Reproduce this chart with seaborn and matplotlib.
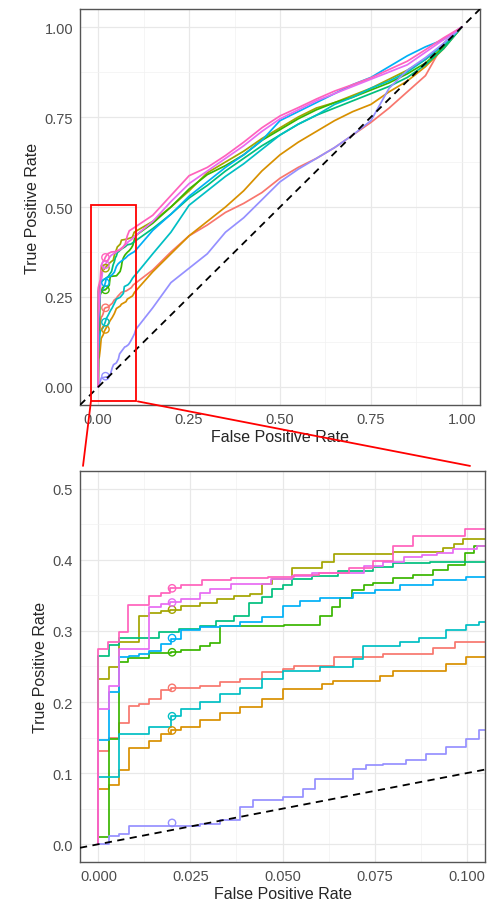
import numpy as np
import pandas as pd
import matplotlib
matplotlib.use("Agg")
import matplotlib.pyplot as plt
from matplotlib.patches import Rectangle, ConnectionPatch
from matplotlib.ticker import MultipleLocator, FormatStrFormatter
import seaborn as sns

# curve names and ggplot-like hue colours
names = ["red", "orange", "olive", "green", "seagreen", "cyan", "blue", "purple", "magenta", "pink"]
colors = ["#F8766D", "#D89000", "#A3A500", "#39B600", "#00BF7D",
          "#00BFC4", "#00B0F6", "#9590FF", "#E76BF3", "#FF62BC"]

# low-FPR part of each curve
red_fpr = [0, 0, 0.003, 0.0056, 0.0083, 0.011, 0.0137, 0.0169, 0.0196, 0.0277, 0.0331, 0.0385,
           0.0444, 0.050, 0.053, 0.064, 0.0774, 0.091, 0.0968]
red_tpr = [0, 0.131, 0.15, 0.17, 0.194, 0.197, 0.204, 0.217, 0.22, 0.222, 0.228, 0.232,
           0.242, 0.246, 0.251, 0.263, 0.267, 0.276, 0.284]

orange_fpr = [0, 0, 0.003, 0.0056, 0.0083, 0.0137, 0.0169, 0.0196, 0.0223, 0.0277, 0.0331, 0.0385,
              0.0444, 0.050, 0.0606, 0.0638, 0.0764, 0.080, 0.0944, 0.0998]
orange_tpr = [0, 0.077, 0.083, 0.105, 0.135, 0.145, 0.155, 0.16, 0.165, 0.175, 0.185, 0.193,
              0.204, 0.218, 0.225, 0.23, 0.237, 0.244, 0.253, 0.263]

olive_fpr = [0, 0, 0.003, 0.0055, 0.011, 0.0137, 0.017, 0.0195, 0.0225, 0.0277, 0.0322, 0.0368,
             0.0413, 0.0444, 0.0471, 0.0526, 0.0607, 0.064, 0.080, 0.0937, 0.0965, 0.099]
olive_tpr = [0, 0.232, 0.249, 0.285, 0.321, 0.325, 0.328, 0.330, 0.335, 0.340, 0.345, 0.349,
             0.352, 0.366, 0.373, 0.389, 0.397, 0.408, 0.411, 0.416, 0.423, 0.430]

green_fpr = [0, 0, 0.003, 0.0055, 0.008, 0.0137, 0.0196, 0.0225, 0.0277, 0.0304, 0.0331, 0.0503,
             0.0603, 0.0635, 0.0657, 0.069, 0.072, 0.0746, 0.080, 0.0855, 0.091, 0.095, 0.0996, 0.102]
green_tpr = [0, 0.01, 0.148, 0.256, 0.262, 0.269, 0.27, 0.273, 0.279, 0.283, 0.307, 0.309,
             0.321, 0.333, 0.347, 0.358, 0.364, 0.368, 0.374, 0.379, 0.386, 0.393, 0.41, 0.42]

seagreen_fpr = [0, 0, 0.003, 0.0055, 0.0164, 0.022, 0.0277, 0.032, 0.0368, 0.041, 0.0444, 0.0471,
                0.050, 0.0526, 0.058, 0.065, 0.0746, 0.080, 0.090]
seagreen_tpr = [0, 0.265, 0.28, 0.29, 0.299, 0.303, 0.307, 0.314, 0.321, 0.339, 0.348, 0.359,
                0.364, 0.373, 0.378, 0.384, 0.39, 0.395, 0.397]

blue_fpr = [0, 0, 0.0029, 0.0056, 0.0083, 0.011, 0.0137, 0.0169, 0.0196, 0.0223, 0.0277, 0.0331,
            0.0385, 0.0444, 0.050, 0.0547, 0.0601, 0.0692, 0.075, 0.0818, 0.0908, 0.0998]
blue_tpr = [0, 0.146, 0.214, 0.263, 0.265, 0.267, 0.272, 0.281, 0.289, 0.302, 0.305, 0.307,
            0.312, 0.319, 0.335, 0.342, 0.347, 0.354, 0.358, 0.365, 0.371, 0.376]

cyan_fpr = [0, 0, 0.0056, 0.0137, 0.0196, 0.0223, 0.0277, 0.0331, 0.0385, 0.0444, 0.050, 0.0601,
            0.0692, 0.0719, 0.0818, 0.0872, 0.0944, 0.0998, 0.1034]
cyan_tpr = [0, 0.095, 0.155, 0.165, 0.181, 0.19, 0.20, 0.211, 0.22, 0.232, 0.244, 0.249,
            0.26, 0.279, 0.284, 0.29, 0.302, 0.309, 0.3125]

purple_fpr = [0, 0.003, 0.0056, 0.0083, 0.0277, 0.0331, 0.0385, 0.0421, 0.050, 0.0556, 0.0588,
              0.0692, 0.0728, 0.0773, 0.0836, 0.089, 0.0944, 0.0998, 0.1034]
purple_tpr = [0, 0.011, 0.015, 0.025, 0.029, 0.034, 0.053, 0.062, 0.067, 0.078, 0.092,
              0.106, 0.111, 0.113, 0.118, 0.127, 0.137, 0.148, 0.16]

magenta_fpr = [0, 0, 0.003, 0.0055, 0.0137, 0.017, 0.0195, 0.0225, 0.0277, 0.0304, 0.0359, 0.0468,
               0.0526, 0.058, 0.072, 0.0774, 0.083, 0.088, 0.0919, 0.0964, 0.1027]
magenta_tpr = [0, 0.19, 0.222, 0.274, 0.333, 0.338, 0.341, 0.345, 0.354, 0.359, 0.366, 0.373,
               0.377, 0.381, 0.392, 0.397, 0.404, 0.407, 0.41, 0.415, 0.42]

pink_fpr = [0, 0, 0.0025, 0.0055, 0.008, 0.0137, 0.017, 0.0195, 0.0225, 0.028, 0.036, 0.046,
            0.053, 0.060, 0.068, 0.0745, 0.080, 0.0855, 0.0995]
pink_tpr = [0, 0.275, 0.285, 0.298, 0.337, 0.349, 0.353, 0.360, 0.365, 0.371, 0.375, 0.376,
            0.379, 0.381, 0.388, 0.398, 0.420, 0.434, 0.443]

# rest of each curve
far_fpr = [0.15, 0.2, 0.25, 0.3, 0.35, 0.4, 0.45, 0.5, 0.55, 0.6, 0.65, 0.7, 0.75, 0.8, 0.85, 0.9, 0.95, 1.0]
far_tpr = {
    "red":      [0.325, 0.375, 0.42, 0.45, 0.485, 0.51, 0.54, 0.58, 0.61, 0.635, 0.665, 0.70, 0.735, 0.775, 0.82, 0.865, 0.955, 1.0],
    "orange":   [0.32, 0.37, 0.42, 0.46, 0.50, 0.545, 0.60, 0.645, 0.68, 0.71, 0.74, 0.765, 0.785, 0.82, 0.85, 0.89, 0.94, 1.0],
    "olive":    [0.46, 0.50, 0.545, 0.595, 0.625, 0.655, 0.69, 0.72, 0.75, 0.775, 0.79, 0.81, 0.83, 0.855, 0.88, 0.91, 0.95, 1.0],
    "green":    [0.455, 0.50, 0.55, 0.59, 0.615, 0.645, 0.685, 0.715, 0.745, 0.77, 0.79, 0.805, 0.825, 0.845, 0.87, 0.90, 0.945, 1.0],
    "seagreen": [0.44, 0.48, 0.525, 0.56, 0.60, 0.635, 0.67, 0.70, 0.73, 0.755, 0.775, 0.795, 0.815, 0.835, 0.86, 0.895, 0.94, 1.0],
    "cyan":     [0.37, 0.43, 0.505, 0.545, 0.585, 0.62, 0.66, 0.70, 0.73, 0.755, 0.785, 0.805, 0.83, 0.85, 0.875, 0.91, 0.95, 1.0],
    "blue":     [0.435, 0.48, 0.53, 0.57, 0.61, 0.645, 0.685, 0.74, 0.765, 0.79, 0.815, 0.84, 0.86, 0.89, 0.92, 0.945, 0.965, 1.0],
    "purple":   [0.22, 0.29, 0.33, 0.37, 0.43, 0.47, 0.52, 0.57, 0.605, 0.635, 0.665, 0.70, 0.74, 0.83, 0.88, 0.915, 0.955, 1.0],
    "magenta":  [0.46, 0.515, 0.565, 0.60, 0.635, 0.67, 0.71, 0.745, 0.77, 0.795, 0.815, 0.835, 0.855, 0.875, 0.895, 0.93, 0.965, 1.0],
    "pink":     [0.477, 0.532, 0.587, 0.61, 0.643, 0.68, 0.72, 0.753, 0.776, 0.80, 0.822, 0.84, 0.859, 0.882, 0.905, 0.937, 0.97, 1.0],
}

# open circles at FPR = 0.02
marker_names = ["red", "orange", "olive", "green", "cyan", "blue", "purple", "magenta", "pink"]
marker_fpr = [0.02, 0.02, 0.02, 0.02, 0.02, 0.02, 0.02, 0.02, 0.02]
marker_tpr = [0.22, 0.16, 0.33, 0.27, 0.18, 0.29, 0.03, 0.34, 0.36]

low = {
    "red": (red_fpr, red_tpr), "orange": (orange_fpr, orange_tpr),
    "olive": (olive_fpr, olive_tpr), "green": (green_fpr, green_tpr),
    "seagreen": (seagreen_fpr, seagreen_tpr), "cyan": (cyan_fpr, cyan_tpr),
    "blue": (blue_fpr, blue_tpr), "purple": (purple_fpr, purple_tpr),
    "magenta": (magenta_fpr, magenta_tpr), "pink": (pink_fpr, pink_tpr),
}
frames = []
for n in names:
    f, t = low[n]
    frames.append(pd.DataFrame({"fpr": f + far_fpr, "tpr": t + far_tpr[n], "model": n}))
roc = pd.concat(frames, ignore_index=True)
pal = dict(zip(names, colors))

sns.set_style("white")
plt.rcParams["font.family"] = ["Liberation Sans", "DejaVu Sans"]

fig = plt.figure(figsize=(4.87, 9.03), dpi=100)
ax_top = fig.add_axes([0.1643, 0.5504, 0.8214, 0.4385])
ax_bot = fig.add_axes([0.1643, 0.0443, 0.8316, 0.4330])

sns.lineplot(data=roc, x="fpr", y="tpr", hue="model", hue_order=names, palette=pal,
             estimator=None, sort=False, legend=False, lw=1.25, ax=ax_top)
sns.lineplot(data=roc, x="fpr", y="tpr", hue="model", hue_order=names, palette=pal,
             estimator=None, sort=False, legend=False, lw=1.25, drawstyle="steps-post", ax=ax_bot)

for ax in (ax_top, ax_bot):
    for n, x, y in zip(marker_names, marker_fpr, marker_tpr):
        ax.scatter(x, y, s=28, facecolors="none", edgecolors=pal[n], linewidths=1.0, zorder=3)
    ax.axline((0, 0), (1, 1), color="black", ls=(0, (4, 3)), lw=1.3, zorder=4)
    ax.grid(which="major", color="#E8E8E8", lw=0.9)
    ax.grid(which="minor", color="#F2F2F2", lw=0.5)
    ax.set_axisbelow(True)
    for s in ax.spines.values():
        s.set_color("#555555")
        s.set_linewidth(1.0)
    ax.tick_params(which="major", direction="out", length=3, width=0.8, color="#444444",
                   labelcolor="#4D4D4D", labelsize=10.5, pad=2)
    ax.tick_params(which="minor", length=0)
    ax.set_xlabel("False Positive Rate", fontsize=11.5, labelpad=2)
    ax.set_ylabel("True Positive Rate", fontsize=11.5, labelpad=3)

ax_top.set_xlim(-0.05, 1.05)
ax_top.set_ylim(-0.05, 1.05)
ax_top.xaxis.set_major_locator(MultipleLocator(0.25))
ax_top.xaxis.set_minor_locator(MultipleLocator(0.125))
ax_top.yaxis.set_major_locator(MultipleLocator(0.25))
ax_top.yaxis.set_minor_locator(MultipleLocator(0.125))
ax_top.xaxis.set_major_formatter(FormatStrFormatter("%.2f"))
ax_top.yaxis.set_major_formatter(FormatStrFormatter("%.2f"))

ax_bot.set_xlim(-0.005, 0.105)
ax_bot.set_ylim(-0.025, 0.525)
ax_bot.xaxis.set_major_locator(MultipleLocator(0.025))
ax_bot.xaxis.set_minor_locator(MultipleLocator(0.0125))
ax_bot.yaxis.set_major_locator(MultipleLocator(0.1))
ax_bot.yaxis.set_minor_locator(MultipleLocator(0.05))
ax_bot.xaxis.set_major_formatter(FormatStrFormatter("%.3f"))
ax_bot.yaxis.set_major_formatter(FormatStrFormatter("%.1f"))

# zoom box and connector lines
ax_top.add_patch(Rectangle((-0.02, -0.04), 0.125, 0.546, fill=False, edgecolor="#FF0000",
                           lw=1.3, clip_on=False, zorder=5))
for xa, xb in ((-0.02, 0.0074), (0.109, 0.963)):
    cp = ConnectionPatch(xyA=(xa, -0.04), coordsA="data", axesA=ax_top,
                         xyB=(xb, 1.013), coordsB="axes fraction", axesB=ax_bot,
                         color="#FF0000", lw=1.3)
    fig.add_artist(cp)

fig.savefig("out.png", dpi=100)
